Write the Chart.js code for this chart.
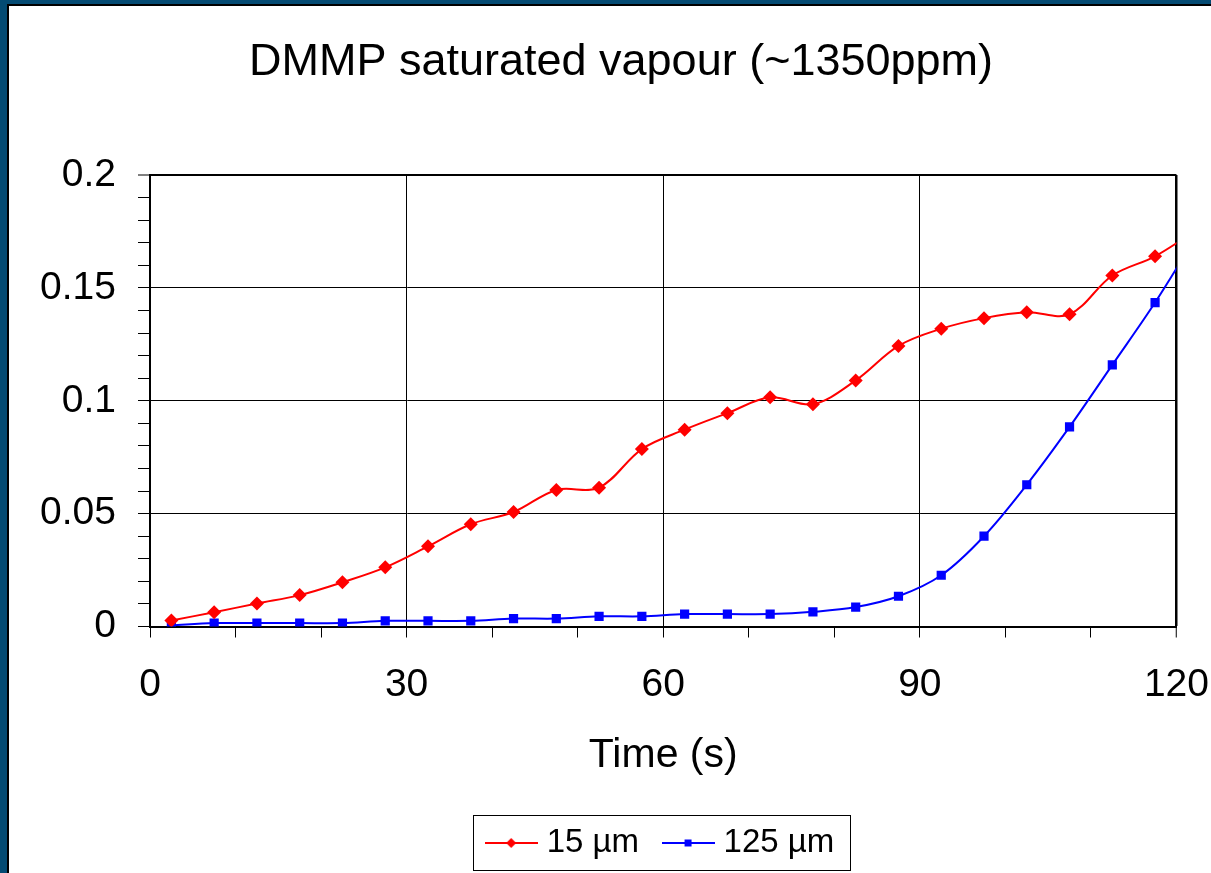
<!DOCTYPE html>
<html>
<head>
<meta charset="utf-8">
<title>DMMP saturated vapour</title>
<script src="https://cdn.jsdelivr.net/npm/chart.js@4.4.1/dist/chart.umd.min.js"></script>
<style>
  body { margin: 0; background: #044b73; width: 1211px; height: 873px; overflow: hidden; }
  #frame { position: absolute; left: 7px; top: 4px; width: 1202px; height: 867px; overflow: hidden;
           border-left: 2px solid #000; border-top: 2px solid #000; background: #fff; }
  #box { position: relative; width: 1224px; height: 867px; }
</style>
</head>
<body>
<div id="frame"><div id="box"><canvas id="lineChart"></canvas></div></div>
<script>
"use strict";

// time in seconds, one reading every 5 s (last one lies past the axis end)
var times = [2.5, 7.5, 12.5, 17.5, 22.5, 27.5, 32.5, 37.5, 42.5, 47.5, 52.5, 57.5,
             62.5, 67.5, 72.5, 77.5, 82.5, 87.5, 92.5, 97.5, 102.5, 107.5, 112.5, 117.5, 122.5];

// response for the 15 um film
var film15 = [0.0027, 0.0063, 0.0102, 0.0139, 0.0196, 0.0262, 0.0355, 0.0453, 0.0507, 0.0605,
              0.0615, 0.0786, 0.0872, 0.0945, 0.1015, 0.0985, 0.109, 0.1243, 0.1319, 0.1366,
              0.1392, 0.1383, 0.1555, 0.164, 0.176];

// response for the 125 um film
var film125 = [0.0005, 0.0015, 0.0015, 0.0015, 0.0015, 0.0025, 0.0025, 0.0025, 0.0035, 0.0035,
               0.0045, 0.0045, 0.0055, 0.0055, 0.0055, 0.0065, 0.0086, 0.0134, 0.0227, 0.040,
               0.0628, 0.0884, 0.1159, 0.1435, 0.174];

var seriesNames = ["15 \u00b5m", "125 \u00b5m"];
var xTickLabels = [0, 30, 60, 90, 120];
var yTickLabels = [0, 0.05, 0.1, 0.15, 0.2];

var FONT = "'Liberation Sans', Arial, sans-serif";

function toPoints(values) {
    return times.map(function (t, i) { return { x: t, y: values[i] }; });
}

function isLabelled(v, list) {
    return list.some(function (l) { return Math.abs(l - v) < 1e-9; });
}

// little line + marker picture for the legend
function legendSymbol(color, style) {
    var c = document.createElement("canvas");
    c.width = 53;
    c.height = 12;
    var g = c.getContext("2d");
    g.strokeStyle = color;
    g.fillStyle = color;
    g.lineWidth = 2;
    g.beginPath();
    g.moveTo(0, 6);
    g.lineTo(53, 6);
    g.stroke();
    g.beginPath();
    if (style === "rectRot") {
        g.moveTo(26.5, 1); g.lineTo(31.5, 6); g.lineTo(26.5, 11); g.lineTo(21.5, 6);
    } else {
        g.rect(23, 2.5, 7, 7);
    }
    g.fill();
    return c;
}

// box round the legend
var legendBox = {
    id: "legendBox",
    afterDraw: function (chart) {
        var hb = chart.legend.legendHitBoxes;
        if (!hb || !hb.length) return;
        var last = hb[hb.length - 1];
        var cy = hb[0].top + hb[0].height / 2;
        var left = Math.round(hb[0].left - 19.5) + 0.5;
        var right = Math.round(last.left + last.width + 16) + 0.5;
        var ctx = chart.ctx;
        ctx.save();
        ctx.strokeStyle = "#000";
        ctx.lineWidth = 1;
        ctx.strokeRect(left, Math.round(cy - 28) + 0.5, right - left, 55);
        ctx.restore();
    }
};

var ctx_line = document.getElementById("lineChart").getContext("2d");

var myLineChart = new Chart(ctx_line, {
    type: "line",
    data: {
        datasets: [
            {
                label: seriesNames[0],
                data: toPoints(film15),
                borderColor: "#ff0000",
                backgroundColor: "#ff0000",
                borderWidth: 2,
                pointStyle: "rectRot",
                pointRadius: 7,
                pointBorderWidth: 0,
                tension: 0.35
            },
            {
                label: seriesNames[1],
                data: toPoints(film125),
                borderColor: "#0000ff",
                backgroundColor: "#0000ff",
                borderWidth: 2,
                pointStyle: "rect",
                pointRadius: 6.5,
                pointBorderWidth: 0,
                tension: 0.35
            }
        ]
    },
    options: {
        responsive: true,
        maintainAspectRatio: false,
        animation: false,
        layout: { padding: { left: 0, right: 0, top: 0, bottom: 3.5 } },
        plugins: {
            title: {
                display: true,
                text: "DMMP saturated vapour (~1350ppm)",
                color: "#000",
                font: { family: FONT, size: 45, weight: "normal" },
                padding: { top: 29.5, bottom: 85.5 }
            },
            legend: {
                position: "bottom",
                fullSize: false,
                labels: {
                    usePointStyle: true,
                    pointStyleWidth: 38,
                    padding: 30,
                    color: "#000",
                    font: { family: FONT, size: 33 },
                    generateLabels: function (chart) {
                        return chart.data.datasets.map(function (ds, i) {
                            return {
                                text: ds.label,
                                fillStyle: ds.borderColor,
                                strokeStyle: ds.borderColor,
                                fontColor: "#000",
                                lineWidth: 0,
                                pointStyle: legendSymbol(ds.borderColor, ds.pointStyle),
                                datasetIndex: i,
                                hidden: false
                            };
                        });
                    }
                }
            },
            tooltip: { enabled: false }
        },
        scales: {
            x: {
                type: "linear",
                min: 0,
                max: 120,
                afterFit: function (scale) { scale.height = 170; },
                ticks: {
                    stepSize: 10,
                    autoSkip: false,
                    maxRotation: 0,
                    padding: 24,
                    color: "#000",
                    font: { family: FONT, size: 39 },
                    callback: function (v) { return isLabelled(v, xTickLabels) ? String(v) : ""; }
                },
                grid: {
                    color: function (c) {
                        return c.tick && isLabelled(c.tick.value, xTickLabels) ? "#000" : "rgba(0,0,0,0)";
                    },
                    lineWidth: function (c) { return c.tick && c.tick.value === 120 ? 2.5 : 1; },
                    tickColor: "#000",
                    tickWidth: 1,
                    tickLength: 11
                },
                border: { color: "#000", width: 2 },
                title: {
                    display: true,
                    text: "Time (s)",
                    color: "#000",
                    font: { family: FONT, size: 41 },
                    padding: { top: 0, bottom: 16 }
                }
            },
            y: {
                min: 0,
                max: 0.2,
                afterFit: function (scale) { scale.width = 141; },
                ticks: {
                    stepSize: 0.01,
                    autoSkip: false,
                    maxTicksLimit: 100,
                    padding: 22,
                    color: "#000",
                    font: { family: FONT, size: 39 },
                    callback: function (v) {
                        return isLabelled(v, yTickLabels) ? String(+v.toFixed(2)) : "";
                    }
                },
                grid: {
                    color: function (c) {
                        return c.tick && isLabelled(c.tick.value, yTickLabels) ? "#000" : "rgba(0,0,0,0)";
                    },
                    lineWidth: function (c) { return c.tick && Math.abs(c.tick.value - 0.2) < 1e-9 ? 2 : 1; },
                    tickColor: "#000",
                    tickWidth: 1,
                    tickLength: 12
                },
                border: { color: "#000", width: 2 }
            }
        }
    },
    plugins: [legendBox]
});
</script>
</body>
</html>
